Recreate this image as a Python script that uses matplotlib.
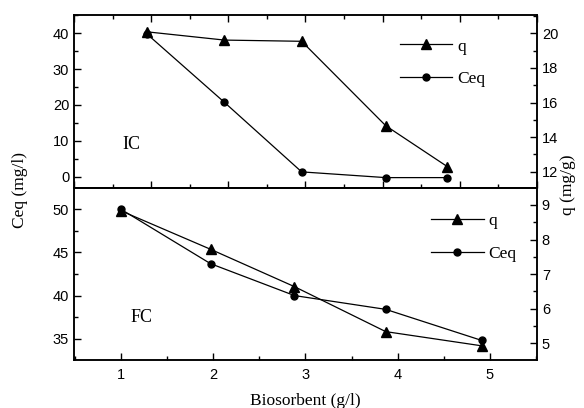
import matplotlib
matplotlib.use("Agg")
import matplotlib.pyplot as plt
from matplotlib.ticker import MultipleLocator

# IC (top panel)
ic_dose = [0.94, 1.95, 2.95, 4.04, 4.84]
ic_q = [20.09, 19.61, 19.54, 14.66, 12.29]
ic_ceq = [39.9, 20.7, 1.3, -0.3, -0.3]

# FC (bottom panel)
fc_dose = [1.0, 1.97, 2.88, 3.87, 4.91]
fc_q = [8.83, 7.72, 6.64, 5.34, 4.93]
fc_ceq = [50.0, 43.7, 40.0, 38.4, 34.8]

serif = "Liberation Serif"
sans = "Liberation Sans"
plt.rcParams["font.family"] = sans
plt.rcParams["axes.linewidth"] = 1.1

fig = plt.figure(figsize=(5.84, 4.08), dpi=100)
L, R = 74 / 584, 537 / 584
ax1 = fig.add_axes([L, (408 - 188) / 408, R - L, 173 / 408])
ax2 = fig.add_axes([L, (408 - 360) / 408, R - L, 172 / 408])
ax1r = ax1.twinx()
ax2r = ax2.twinx()

mk = dict(color="black", lw=0.9)
h1, = ax1r.plot(ic_dose, ic_q, marker="^", ms=7, label="q", **mk)
h2, = ax1.plot(ic_dose, ic_ceq, marker="o", ms=5, label="Ceq", **mk)
h3, = ax2r.plot(fc_dose, fc_q, marker="^", ms=7, label="q", **mk)
h4, = ax2.plot(fc_dose, fc_ceq, marker="o", ms=5, label="Ceq", **mk)

ax1.set_xlim(0, 6)
ax1.set_ylim(-3.2, 45.1)
ax1r.set_ylim(11.06, 21.06)
ax2.set_xlim(0.49, 5.51)
ax2.set_ylim(32.53, 52.47)
ax2r.set_ylim(4.52, 9.49)

for ax in (ax1, ax2):
    ax.xaxis.set_major_locator(MultipleLocator(1))
    ax.xaxis.set_minor_locator(MultipleLocator(0.5))
ax1.yaxis.set_major_locator(MultipleLocator(10))
ax1.yaxis.set_minor_locator(MultipleLocator(5))
ax1r.yaxis.set_major_locator(MultipleLocator(2))
ax1r.yaxis.set_minor_locator(MultipleLocator(1))
ax2.yaxis.set_major_locator(MultipleLocator(5))
ax2.yaxis.set_minor_locator(MultipleLocator(2.5))
ax2r.yaxis.set_major_locator(MultipleLocator(1))
ax2r.yaxis.set_minor_locator(MultipleLocator(0.5))

for ax in (ax1, ax2, ax1r, ax2r):
    ax.tick_params(which="both", direction="in", labelsize=10.5, width=1.0)
    ax.tick_params(which="major", length=5)
    ax.tick_params(which="minor", length=3)

ax1.tick_params(axis="x", which="both", top=True, bottom=True, labelbottom=False)
ax2.tick_params(axis="x", which="both", top=False, bottom=True, pad=6)
for ax in (ax1, ax2):
    ax.tick_params(axis="y", which="both", left=True, right=False)
for ax in (ax1r, ax2r):
    ax.tick_params(axis="y", which="both", right=True, left=False)

leg_kw = dict(loc="upper left", frameon=False, borderpad=0, borderaxespad=0,
              handlelength=3.0, handletextpad=0.3, labelspacing=0.95,
              prop={"family": serif, "size": 12.5})
ax1r.legend([h1, h2], ["q", "Ceq"], bbox_to_anchor=(0.705, 0.865), **leg_kw)
ax2r.legend([h3, h4], ["q", "Ceq"], bbox_to_anchor=(0.772, 0.855), **leg_kw)

ax1.text(0.125, 0.25, "IC", transform=ax1.transAxes, ha="center", va="center",
         family=serif, fontsize=13)
ax2.text(0.145, 0.245, "FC", transform=ax2.transAxes, ha="center", va="center",
         family=serif, fontsize=13)

ax2.set_xlabel("Biosorbent (g/l)", family=serif, fontsize=12.5, labelpad=8)
fig.text(20 / 584, (408 - 190) / 408, "Ceq (mg/l)", rotation=90, ha="center",
         va="center", family=serif, fontsize=12.5)
fig.text(568 / 584, (408 - 185) / 408, "q (mg/g)", rotation=90, ha="center",
         va="center", family=serif, fontsize=12.5)

fig.savefig("out.png", dpi=100)
